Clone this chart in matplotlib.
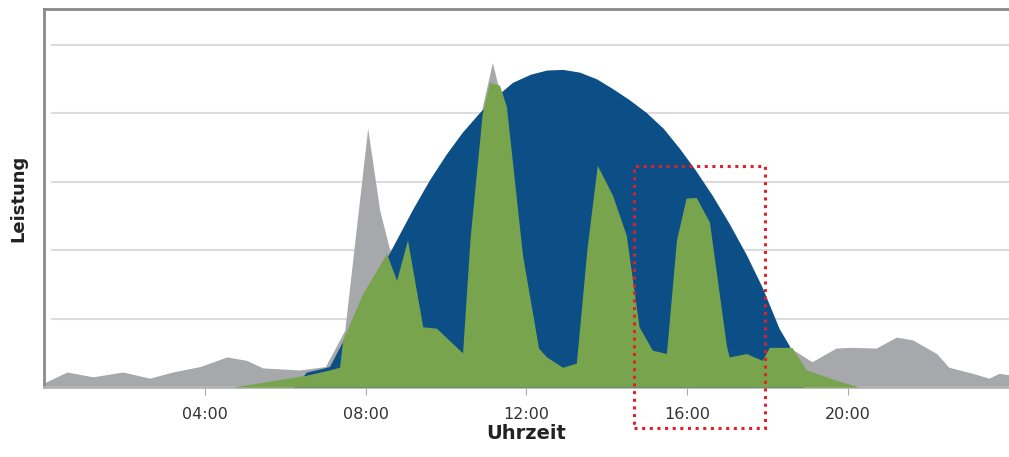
import matplotlib.pyplot as plt
from matplotlib.patches import Rectangle

# clear-sky (blue) curve
clear_h = [6.2, 6.53, 6.9, 7.1, 7.5, 8.0, 8.3, 8.6, 9.17, 9.59, 10.0, 10.4, 10.83,
           11.25, 11.65, 12.1, 12.5, 12.9, 13.32, 13.75, 14.14, 14.55, 14.98, 15.4,
           15.8, 16.2, 16.62, 17.05, 17.47, 17.86, 18.28, 18.53, 18.75, 18.9]
clear_v = [0.0, 0.22, 0.27, 0.3, 0.75, 1.35, 1.65, 1.97, 2.6, 3.03, 3.4, 3.72, 4.01,
           4.25, 4.45, 4.57, 4.63, 4.64, 4.6, 4.5, 4.36, 4.2, 4.01, 3.78,
           3.49, 3.17, 2.8, 2.38, 1.93, 1.46, 0.86, 0.61, 0.3, 0.0]

# measured PV output (green)
pv_h = [4.7, 6.5, 7.1, 7.35, 7.43, 7.93, 8.52, 8.77, 9.04, 9.42, 9.76, 10.41, 10.6,
        10.9, 11.08, 11.33, 11.5, 11.9, 12.3, 12.5, 12.9, 13.24, 13.5, 13.76, 14.14,
        14.48, 14.8, 15.13, 15.48, 15.73, 15.97, 16.22, 16.55, 16.97, 17.04, 17.47,
        17.86, 18.04, 18.6, 18.96, 19.7, 20.27]
pv_v = [0.0, 0.17, 0.25, 0.29, 0.69, 1.37, 1.95, 1.56, 2.15, 0.88, 0.86, 0.5, 2.2,
        4.0, 4.45, 4.41, 4.1, 1.93, 0.57, 0.44, 0.29, 0.35, 2.0, 3.24, 2.8,
        2.22, 0.88, 0.54, 0.49, 2.15, 2.76, 2.77, 2.41, 0.61, 0.44, 0.49,
        0.39, 0.58, 0.58, 0.25, 0.1, 0.0]

# consumption (grey)
load_h = [0.0, 0.57, 1.22, 1.96, 2.63, 3.2, 3.88, 4.55, 5.04, 5.44, 6.36, 7.0, 7.48,
          8.05, 8.35, 8.6, 9.2, 10.0, 10.5, 10.83, 11.15, 11.45, 12.0, 14.0, 16.0,
          18.0, 18.53, 18.78, 19.1, 19.7, 20.1, 20.7, 21.2, 21.6, 22.2, 22.5, 23.1,
          23.5, 23.75, 24.0]
load_v = [0.06, 0.22, 0.15, 0.22, 0.13, 0.22, 0.3, 0.44, 0.39, 0.28, 0.25, 0.3, 0.83,
          3.78, 2.58, 2.0, 1.2, 1.0, 2.5, 3.9, 4.74, 4.04, 1.0, 0.8, 0.8,
          0.6, 0.58, 0.49, 0.37, 0.57, 0.58, 0.57, 0.73, 0.69, 0.49, 0.29, 0.2,
          0.13, 0.2, 0.18]

tick_pos = [4, 8, 12, 16, 20]
tick_labels = ['04:00', '08:00', '12:00', '16:00', '20:00']

fig = plt.figure(figsize=(10.09, 4.57), dpi=100)
ax = fig.add_axes([0.0436, 0.153, 0.9564, 0.827])

ax.fill_between(load_h, load_v, color='#a6a8ab', lw=0, zorder=2)
ax.fill_between(clear_h, clear_v, color='#0b4f86', lw=0, zorder=3)
ax.fill_between(pv_h, pv_v, color='#77a44c', lw=0, zorder=4)

ax.set_xlim(0, 24)
ax.set_ylim(0, 5.52)

for y in [1, 2, 3, 4, 5]:
    ax.axhline(y, xmin=0.008, color='#dcdcdc', lw=1.5, zorder=1)

ax.add_patch(Rectangle((14.68, -0.6), 3.25, 3.83, fill=False, edgecolor='#e0202a',
                       linestyle=(0, (1, 1.5)), lw=2.2, clip_on=False, zorder=6))

ax.spines['right'].set_visible(False)
for side in ['left', 'top', 'bottom']:
    ax.spines[side].set_color('#8a8a8a')
    ax.spines[side].set_linewidth(2)
ax.spines['bottom'].set_color('#b5b5b5')

ax.set_xticks(tick_pos)
ax.set_xticklabels(tick_labels, fontsize=11.5, color='#333333')
ax.tick_params(axis='x', length=6, color='#aaaaaa', pad=8)
ax.set_yticks([])

ax.set_xlabel('Uhrzeit', fontsize=14, fontweight='bold', color='#222222', labelpad=2)
ax.set_ylabel('Leistung', fontsize=13, fontweight='bold', color='#222222', labelpad=12)

plt.savefig('out.png', dpi=100)
